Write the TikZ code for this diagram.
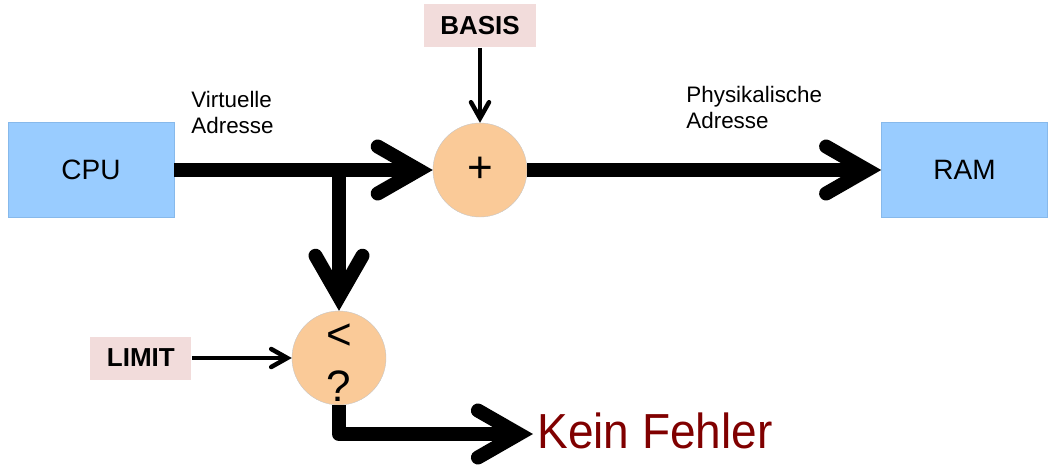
\documentclass[tikz,border=0pt]{standalone}
\usepackage{fontspec}
\setmainfont{Liberation Sans}
\usetikzlibrary{arrows.meta, positioning}

\definecolor{unitblue}{RGB}{153,204,255}
\definecolor{unitedge}{RGB}{135,185,235}
\definecolor{regpink}{RGB}{242,220,219}
\definecolor{oppeach}{RGB}{250,202,152}
\definecolor{okred}{RGB}{128,0,0}

\pgfkeys{/pgf/arrow keys/round cap/.code={\pgfarrowroundcaptrue}}

\begin{document}
\begin{tikzpicture}[x=0.5pt, y=-0.5pt,
        unit/.style={rectangle, draw=unitedge, thin, fill=unitblue, minimum width=83pt, minimum height=47.5pt, font=\fontsize{14}{16}\selectfont},
        reg/.style={rectangle, fill=regpink, minimum height=21.5pt, inner sep=0pt, font=\bfseries\fontsize{13}{15}\selectfont},
        op/.style={circle, draw=gray!45, very thin, fill=oppeach, minimum size=47pt, inner sep=0pt, align=center, font=\fontsize{22}{26}\selectfont},
        note/.style={anchor=north west, inner sep=0pt, align=left, font=\fontsize{11.2}{13}\selectfont},
        bus/.style={line width=7pt, line join=round, -{Straight Barb[length=20.5pt, width=23.5pt, round cap]}},
        wire/.style={line width=2.25pt, -{Straight Barb[length=8pt, width=9pt, round cap]}}
    ]
        \useasboundingbox (0,0) rectangle (1056,473);

        % Address path
        \node[unit] (cpu) at (91,170) {CPU};
        \node[op] (plus) at (480,170) {+};
        \node[unit, right=177pt of plus] (ram) {RAM};
        \node[reg, minimum width=56pt, above=37.5pt of plus] (basis) {BASIS};

        \draw[bus] (cpu) -- (plus);
        \draw[bus] (plus) -- (ram);
        \draw[wire] (basis) -- (plus);

        \node[note] (virt) at (191,91) {Virtuelle\\Adresse};
        \node[note] (phys) at (686,86) {Physikalische\\Adresse};

        % Limit check
        \node[op, text height=43pt, text depth=0pt] (cmp) at (339,358) {<\\?};
        \node[reg, minimum width=50.5pt, left=50pt of cmp] (limit) {LIMIT};
        \node[anchor=west, inner sep=0pt, inner xsep=2pt, text depth=3.6pt, text=okred, font=\fontsize{23}{26}\selectfont] (ok) at (533,434) {\scalebox{1}[1.07]{Kein Fehler}};

        \draw[bus] (cmp.north |- cpu.east) -- (cmp);
        \draw[wire] (limit) -- (cmp);
        \draw[bus] (cmp) |- (ok);

    \end{tikzpicture}
\end{document}
